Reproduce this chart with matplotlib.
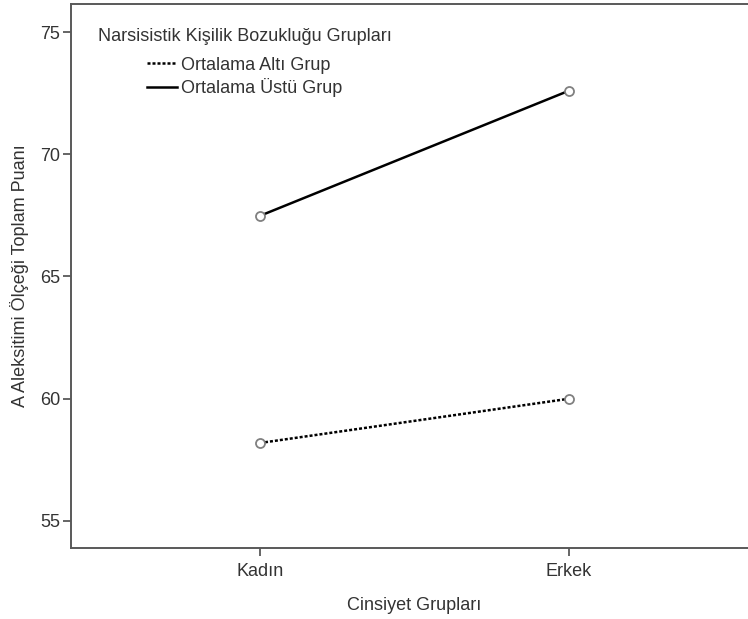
import matplotlib.pyplot as plt
from matplotlib.lines import Line2D

plt.rcParams["font.family"] = ["Liberation Sans", "DejaVu Sans"]

# data
genders = ["Kadın", "Erkek"]
group_names = ["Ortalama Altı Grup", "Ortalama Üstü Grup"]
below_avg = [58.18, 59.99]
above_avg = [67.48, 72.60]

text_color = "#333333"
spine_color = "#595959"
dotted = (0, (1.2, 0.8))

fig = plt.figure(figsize=(7.48, 6.19), dpi=100)
# axes runs a little past the right edge of the figure, as in the reference
ax = fig.add_axes([71 / 748, 1 - 548 / 619, 687 / 748, 544 / 619])

x = list(range(len(genders)))
marker_style = dict(marker="o", markersize=6.5, markerfacecolor="white",
                    markeredgecolor="#808080", markeredgewidth=1.3)

ax.plot(x, below_avg, color="black", linewidth=1.8, linestyle=dotted, **marker_style)
ax.plot(x, above_avg, color="black", linewidth=1.8, **marker_style)

ax.set_xlim(-0.612, 1.612)
ax.set_ylim(53.88, 76.15)
ax.set_xticks(x)
ax.set_xticklabels(genders)
ax.set_yticks([55, 60, 65, 70, 75])

ax.tick_params(axis="both", direction="out", length=6, width=1.3,
               color=spine_color, labelcolor=text_color, labelsize=13, pad=2)
ax.tick_params(axis="x", pad=5)
for side in ["left", "top", "bottom"]:
    ax.spines[side].set_color(spine_color)
    ax.spines[side].set_linewidth(1.4)
ax.spines["right"].set_visible(False)

ax.set_xlabel("Cinsiyet Grupları", fontsize=13, color=text_color, labelpad=12)
ax.set_ylabel("A Aleksitimi Ölçeği Toplam Puanı", fontsize=13,
              color=text_color, labelpad=8)

# legend: title as plain text, entries indented under it
ax.text(0.0393, 0.941, "Narsisistik Kişilik Bozukluğu Grupları", transform=ax.transAxes,
        fontsize=13, color=text_color, ha="left", va="center")
handles = [Line2D([], [], color="black", linewidth=1.8, linestyle=dotted),
           Line2D([], [], color="black", linewidth=1.8)]
leg = ax.legend(handles, group_names, loc="upper left", bbox_to_anchor=(0.1106, 0.903),
                frameon=False, fontsize=13, handlelength=1.65, handletextpad=0.25,
                labelspacing=0.25, borderpad=0, borderaxespad=0)
for t in leg.get_texts():
    t.set_color(text_color)

fig.savefig("out.png", dpi=100)
